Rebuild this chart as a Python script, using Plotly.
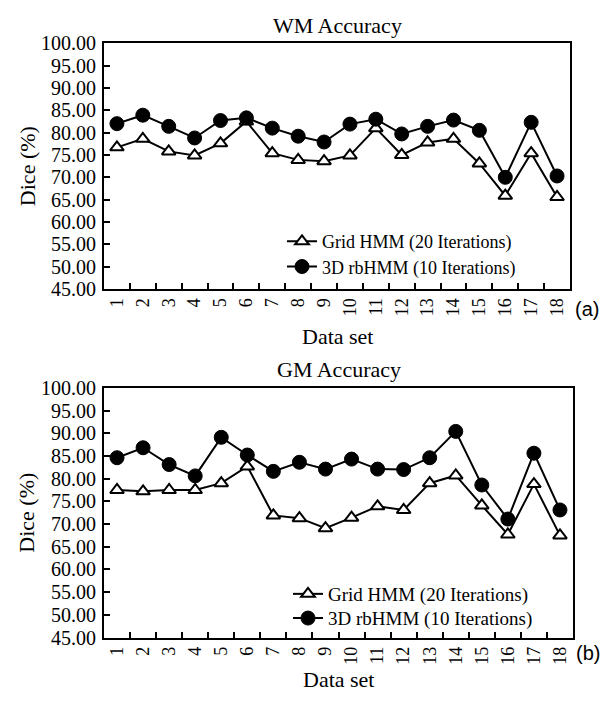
import plotly.graph_objects as go

datasets = ["1", "2", "3", "4", "5", "6", "7", "8", "9", "10",
            "11", "12", "13", "14", "15", "16", "17", "18"]
wm_grid = [76.7, 78.6, 75.8, 74.9, 77.6, 82.5, 75.4, 73.9, 73.6, 74.9,
           81.0, 75.0, 77.8, 78.6, 73.1, 65.9, 75.4, 65.6]
wm_rb = [82.0, 83.9, 81.4, 78.8, 82.7, 83.3, 81.0, 79.2, 77.9, 81.9,
         83.0, 79.7, 81.4, 82.8, 80.5, 70.0, 82.3, 70.3]
gm_grid = [77.5, 77.2, 77.5, 77.5, 79.0, 82.7, 71.9, 71.3, 69.1, 71.4,
           73.9, 73.1, 79.0, 80.7, 74.1, 67.7, 78.8, 67.5]
gm_rb = [84.6, 86.8, 83.1, 80.6, 89.1, 85.2, 81.6, 83.6, 82.1, 84.3,
         82.1, 82.0, 84.6, 90.4, 78.6, 71.1, 85.6, 73.1]
y_ticks = [45, 50, 55, 60, 65, 70, 75, 80, 85, 90, 95, 100]

SERIF = "Liberation Serif"
# the page body has an 8px default margin; the figure sits at (8, 8)
OFF = 8
W, H = 596, 688

def px_y(p):
    return 1 - (p - OFF) / H

def px_x(p):
    return (p - OFF) / W

fig = go.Figure()

grid_name = "Grid HMM (20 Iterations)"
rb_name = "3D rbHMM (10 Iterations)"

def add_pair(grid, rb, xa, ya, lg_grid, lg_rb):
    fig.add_trace(go.Scatter(
        x=datasets, y=grid, xaxis=xa, yaxis=ya, mode="lines+markers",
        name=grid_name, legend=lg_grid,
        line=dict(color="black", width=2),
        marker=dict(symbol="triangle-up", size=12, color="white",
                    line=dict(color="black", width=2))))
    fig.add_trace(go.Scatter(
        x=datasets, y=rb, xaxis=xa, yaxis=ya, mode="lines+markers",
        name=rb_name, legend=lg_rb,
        line=dict(color="black", width=2),
        marker=dict(symbol="circle", size=14, color="black",
                    line=dict(color="black", width=1))))

add_pair(wm_grid, wm_rb, "x", "y", "legend", "legend2")
add_pair(gm_grid, gm_rb, "x2", "y2", "legend3", "legend4")

xcommon = dict(type="category", categoryorder="array", categoryarray=datasets,
               range=[-0.5, 17.5], tickson="boundaries", ticks="inside",
               ticklen=6, tickwidth=1.5, tickcolor="black", tickangle=-90,
               showline=True, linewidth=2, linecolor="black", mirror=True,
               showgrid=False, zeroline=False,
               tickfont=dict(family=SERIF, size=18, color="black"))
ycommon = dict(range=[45, 100], tickvals=y_ticks, tickformat=".2f",
               ticks="inside", ticklen=6, tickwidth=1.5, tickcolor="black",
               showline=True, linewidth=2, linecolor="black", mirror=True,
               showgrid=False, zeroline=False, ticklabelstandoff=2,
               tickfont=dict(family=SERIF, size=20, color="black"))

top_x = [px_x(104), px_x(570)]
bot_x = [px_x(104), px_x(573)]
top_y = [px_y(287), px_y(33)]
bot_y = [px_y(647), px_y(389)]

def leg(xp, yp, size):
    return dict(x=px_x(xp), y=px_y(yp), xanchor="left", yanchor="middle",
                bgcolor="rgba(0,0,0,0)",
                font=dict(family=SERIF, size=size, color="black"))

fig.update_layout(
    width=W, height=H, autosize=False,
    margin=dict(l=0, r=0, t=0, b=0),
    paper_bgcolor="white", plot_bgcolor="white",
    font=dict(family=SERIF, color="black"),
    xaxis=dict(domain=top_x, anchor="y", **xcommon),
    yaxis=dict(domain=top_y, anchor="x", **ycommon),
    xaxis2=dict(domain=bot_x, anchor="y2", **xcommon),
    yaxis2=dict(domain=bot_y, anchor="x2", **ycommon),
    legend=leg(282, 238, 18),
    legend2=leg(282, 264, 18),
    legend3=leg(288, 602, 19),
    legend4=leg(288, 627, 19),
    showlegend=True,
)

anns = [
    dict(text="WM Accuracy", x=(top_x[0] + top_x[1]) / 2, y=px_y(15),
         font=dict(size=22)),
    dict(text="GM Accuracy", x=(bot_x[0] + bot_x[1]) / 2, y=px_y(370),
         font=dict(size=22)),
    dict(text="Data set", x=(top_x[0] + top_x[1]) / 2, y=px_y(336),
         font=dict(size=22)),
    dict(text="Data set", x=(bot_x[0] + bot_x[1]) / 2, y=px_y(690),
         font=dict(size=22)),
    dict(text="Dice (%)", x=px_x(27), y=px_y(160), textangle=-90,
         font=dict(size=22)),
    dict(text="Dice (%)", x=px_x(27), y=px_y(518), textangle=-90,
         font=dict(size=22)),
    dict(text="(a)", x=px_x(587), y=px_y(308),
         font=dict(family="Liberation Sans", size=20)),
    dict(text="(b)", x=px_x(588), y=px_y(663),
         font=dict(family="Liberation Sans", size=20)),
]
for a in anns:
    f = dict(family=SERIF, color="black")
    f.update(a.pop("font"))
    fig.add_annotation(xref="paper", yref="paper", showarrow=False,
                       xanchor="center", yanchor="middle", font=f, **a)

fig.write_html("out.html")
